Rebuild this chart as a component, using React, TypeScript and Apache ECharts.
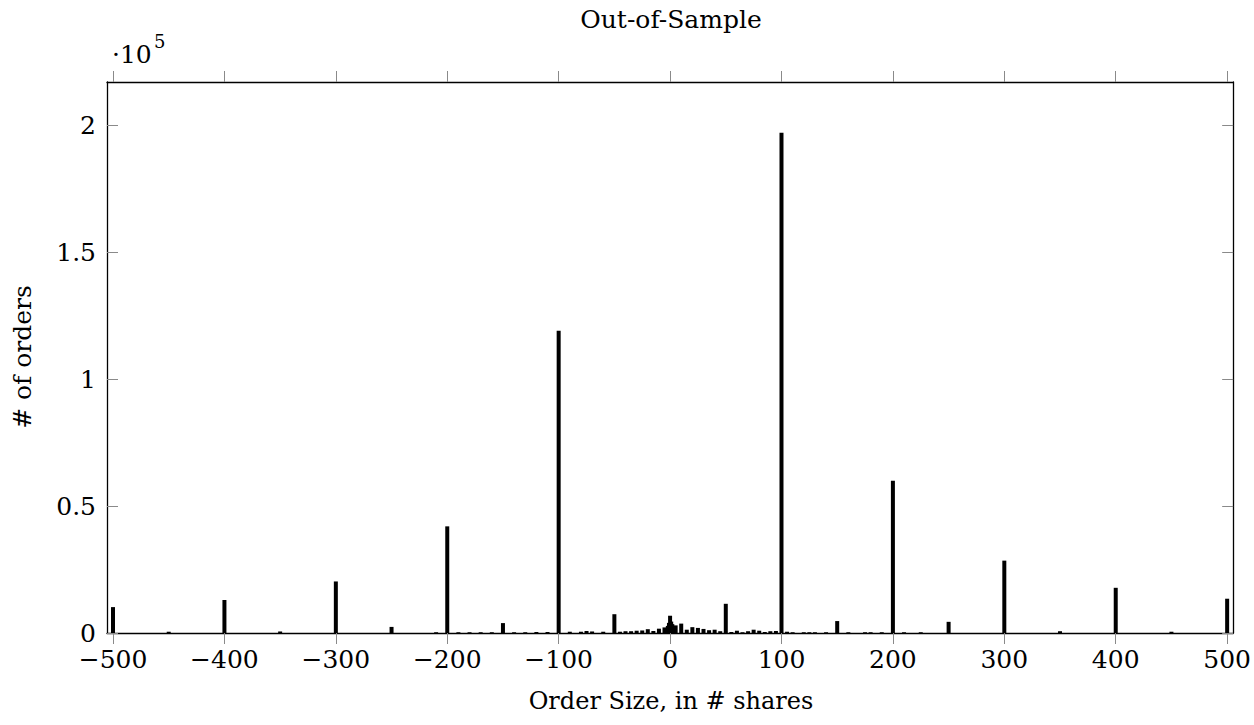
import React, { useEffect, useRef } from "react";
import * as echarts from "echarts";

const orderSizes = [
  -500, -450, -400, -350, -300, -250, -210, -200, -190, -180, -170, -160, -150, -140, -130, -120, -110,
  -100, -90, -80, -75, -70, -60, -50, -45, -40, -35, -30, -25, -20, -15, -10, -5, -3, -2, -1, 0, 1, 2, 3,
  5, 10, 15, 20, 25, 30, 35, 40, 45, 50, 55, 60, 65, 70, 75, 80, 85, 90, 95, 100, 105, 110, 120, 125,
  130, 140, 150, 160, 175, 180, 190, 200, 210, 225, 250, 300, 350, 400, 450, 500,
];
const orderCounts = [
  10200, 500, 13000, 600, 20300, 2400, 300, 42000, 300, 300, 300, 300, 3900, 300, 300, 400, 400,
  119000, 500, 500, 800, 600, 500, 7400, 500, 700, 700, 900, 1000, 1500, 800, 1700, 2200, 2000, 2800, 4000, 6800, 4500, 3500, 2500,
  3000, 3700, 1300, 2300, 2000, 1600, 1100, 1300, 700, 11500, 400, 900, 300, 700, 1300, 900, 400, 700, 800, 197000, 500, 300, 300, 300,
  300, 300, 4700, 300, 300, 300, 300, 60000, 300, 300, 4400, 28500, 700, 17800, 500, 13500,
];
const xTickValues = [-500, -400, -300, -200, -100, 0, 100, 200, 300, 400, 500];
const yTickValues = [0, 50000, 100000, 150000, 200000];
const yTickLabels = ["0", "0.5", "1", "1.5", "2"];

const titleText = "Out-of-Sample";
const xAxisTitle = "Order Size, in # shares";
const yAxisTitle = "# of orders";

export default function App() {
  const ref = useRef<HTMLDivElement>(null);
  useEffect(() => {
    const chart = echarts.init(ref.current!, null, { renderer: "svg" });
    const font = "DejaVu Serif";
    const fs = 25;
    const tickStyle = { color: "#8a8a8a", width: 1 };
    const xMin = -505.4;
    const xMax = 505.4;
    const yMax = 217000;
    const textStyle = (x: number, y: number, text: string, size: number, rotation = 0) => ({
      type: "text",
      x,
      y,
      rotation,
      style: { text, fontFamily: font, fontSize: size, fill: "#000", align: "center", verticalAlign: "middle" },
    });
    chart.setOption({
      animation: false,
      backgroundColor: "#ffffff",
      grid: { left: 107, right: 19, top: 82, bottom: 92, containLabel: false },
      xAxis: [
        {
          type: "value",
          position: "bottom",
          min: xMin,
          max: xMax,
          splitLine: { show: false },
          axisLine: { show: true, onZero: false, lineStyle: { color: "#000", width: 1.3 } },
          axisTick: { show: true, inside: false, length: 11, customValues: xTickValues, lineStyle: tickStyle },
          axisLabel: {
            customValues: xTickValues,
            margin: 14,
            fontFamily: font,
            fontSize: fs,
            color: "#000",
            formatter: (v: number) => (v < 0 ? "\u2212" + String(-v) : String(v)),
          },
        },
        {
          type: "value",
          position: "top",
          min: xMin,
          max: xMax,
          splitLine: { show: false },
          axisLine: { show: true, onZero: false, lineStyle: { color: "#000", width: 1.3 } },
          axisTick: { show: true, inside: false, length: 11, customValues: xTickValues, lineStyle: tickStyle },
          axisLabel: { show: false },
        },
      ],
      yAxis: [
        {
          type: "value",
          position: "left",
          min: 0,
          max: yMax,
          splitLine: { show: false },
          axisLine: { show: true, onZero: false, lineStyle: { color: "#000", width: 1.3 } },
          axisTick: { show: true, inside: true, length: 11, customValues: yTickValues, lineStyle: tickStyle },
          axisLabel: {
            customValues: yTickValues,
            margin: 11,
            fontFamily: font,
            fontSize: fs,
            color: "#000",
            formatter: (v: number) => {
              const i = yTickValues.indexOf(v);
              return i >= 0 ? yTickLabels[i] : "";
            },
          },
        },
        {
          type: "value",
          position: "right",
          min: 0,
          max: yMax,
          splitLine: { show: false },
          axisLine: { show: true, onZero: false, lineStyle: { color: "#000", width: 1.3 } },
          axisTick: { show: true, inside: true, length: 11, customValues: yTickValues, lineStyle: tickStyle },
          axisLabel: { show: false },
        },
      ],
      series: [
        {
          type: "bar",
          xAxisIndex: 0,
          yAxisIndex: 0,
          barWidth: 4,
          itemStyle: { color: "#000" },
          data: orderSizes.map((s, i) => [s, orderCounts[i]]),
        },
      ],
      graphic: [
        textStyle(671, 19, titleText, 25),
        textStyle(671, 701, xAxisTitle, 24),
        textStyle(22, 357, yAxisTitle, 25, Math.PI / 2),
        {
          type: "text",
          x: 112,
          y: 54,
          style: { text: "\u00b710", fontFamily: font, fontSize: fs, fill: "#000", align: "left", verticalAlign: "middle" },
        },
        {
          type: "text",
          x: 154,
          y: 41,
          style: { text: "5", fontFamily: font, fontSize: 18, fill: "#000", align: "left", verticalAlign: "middle" },
        },
      ],
    });
    return () => chart.dispose();
  }, []);
  return <div ref={ref} style={{ position: "fixed", left: 0, top: 0, width: 1254, height: 725 }} />;
}
